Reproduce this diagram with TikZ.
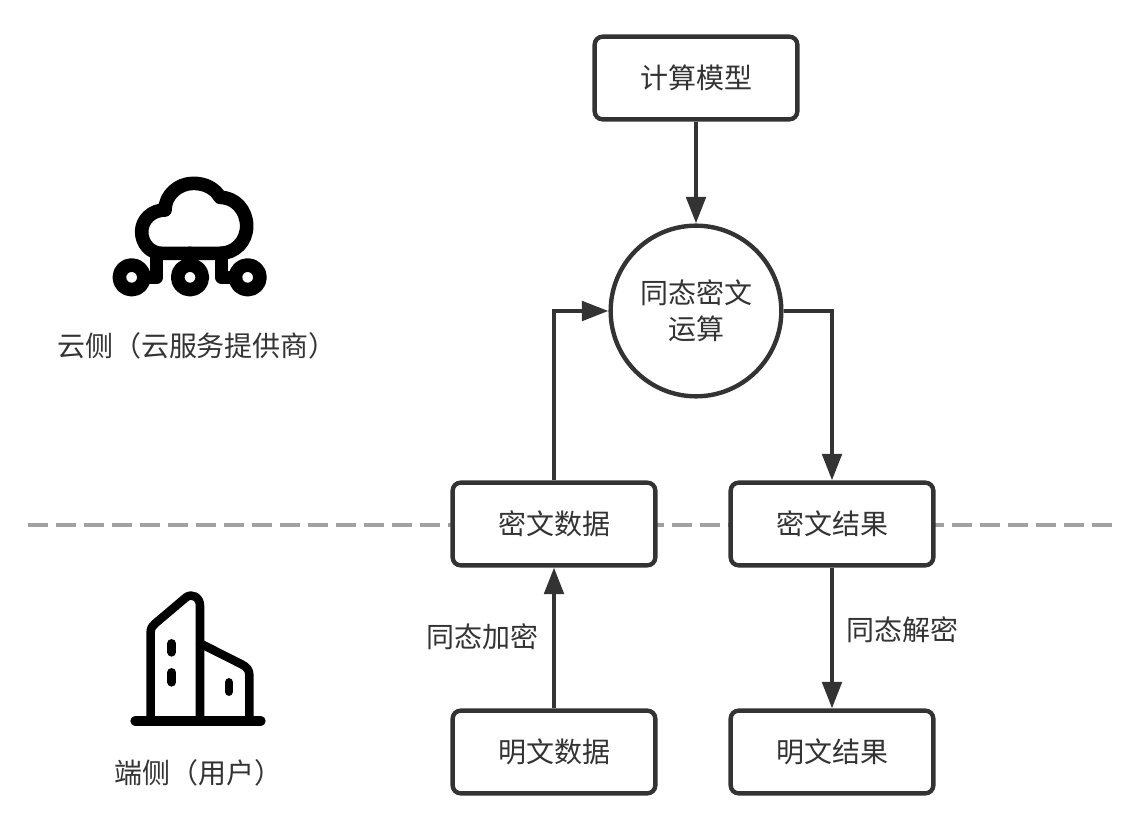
\documentclass[tikz,border=0pt]{standalone}
\usepackage{fontspec}
\setmainfont{Noto Sans CJK SC}[Scale=1]
\usetikzlibrary{arrows.meta}
\definecolor{ink}{HTML}{333333}
\definecolor{dashgray}{HTML}{A0A0A0}
\tikzset{
  x=0.75pt,y=-0.75pt,
  boxnode/.style={draw=ink,line width=3.3pt,fill=white,rounded corners=6pt,minimum width=152pt,minimum height=62pt,inner sep=0pt,text=ink,font=\fontsize{21}{26}\selectfont},
  roundnode/.style={draw=ink,line width=3.3pt,fill=white,circle,minimum size=128pt,inner sep=0pt,text=ink,align=center,font=\fontsize{21}{26}\selectfont},
  lbl/.style={text=ink,inner sep=0pt,font=\fontsize{21}{26}\selectfont},
  link/.style={draw=ink,line width=3.3pt,-{Triangle[length=20pt,width=14.5pt]}},
  icon/.style={line width=10.2pt,line cap=round,line join=round,draw=black},
  iconthin/.style={line width=6.4pt,line cap=round,line join=round,draw=black},
}
\begin{document}
\begin{tikzpicture}
\useasboundingbox (0,0) rectangle (1136,834);
\coordinate (dashL) at (28,525);
\coordinate (dashR) at (1112,525);
\draw[dashgray,line width=3pt,dash pattern=on 15pt off 6pt] (dashL) -- (dashR);
\node[boxnode] (model) at (696,78) {计算模型};
\node[roundnode] (he) at (696,311) {同态密文\\[1pt]运算};
\node[boxnode] (cdata) at (554,524) {密文数据};
\node[boxnode] (cres) at (832,524) {密文结果};
\node[boxnode] (pdata) at (554,752) {明文数据};
\node[boxnode] (pres) at (832,752) {明文结果};
\node[lbl] (enc) at (482,637) {同态加密};
\node[lbl] (dec) at (902,630) {同态解密};
\node[lbl] (cloudlbl) at (197,346) {云侧（云服务提供商）};
\node[lbl] (userlbl) at (198,773) {端侧（用户）};
\draw[link] (model) -- (he);
\draw[link] (cdata.north) |- (he.west);
\draw[link] (he.east) -| (cres.north);
\draw[link] (pdata) -- (cdata);
\draw[link] (cres) -- (pres);
% cloud icon
\begin{scope}[shift={(100,160)},x=0.25pt,y=-0.25pt]
\draw[icon] (360,280) -- (185,280) .. controls (150,280) and (125,250) .. (125,215)
  .. controls (125,180) and (155,150) .. (195,150)
  .. controls (195,105) and (235,70) .. (280,70)
  .. controls (315,70) and (345,85) .. (360,112)
  .. controls (405,112) and (440,150) .. (440,198)
  .. controls (440,245) and (405,280) .. (360,280) -- cycle;
\draw[icon] (95,352) circle (37);
\draw[icon] (270,352) circle (37);
\draw[icon] (443,352) circle (37);
\draw[icon] (170,280) -- (170,352) -- (132,352);
\draw[icon] (270,280) -- (270,315);
\draw[icon] (365,280) -- (365,352) -- (406,352);
\end{scope}
% building icon
\begin{scope}[shift={(115,575)},x=0.25pt,y=-0.25pt]
\draw[iconthin,line width=7pt] (60,438) -- (438,438);
\draw[iconthin] (107,438) -- (107,172) .. controls (107,160) and (112,152) .. (120,146)
  -- (212,68) .. controls (232,52) and (255,68) .. (255,92) -- (255,438);
\draw[iconthin] (255,205) -- (380,268) .. controls (396,276) and (403,286) .. (403,300) -- (403,438);
\draw[iconthin] (170,205) -- (170,232);
\draw[iconthin] (170,292) -- (170,322);
\draw[iconthin] (342,322) -- (342,350);
\end{scope}
\end{tikzpicture}
\end{document}
